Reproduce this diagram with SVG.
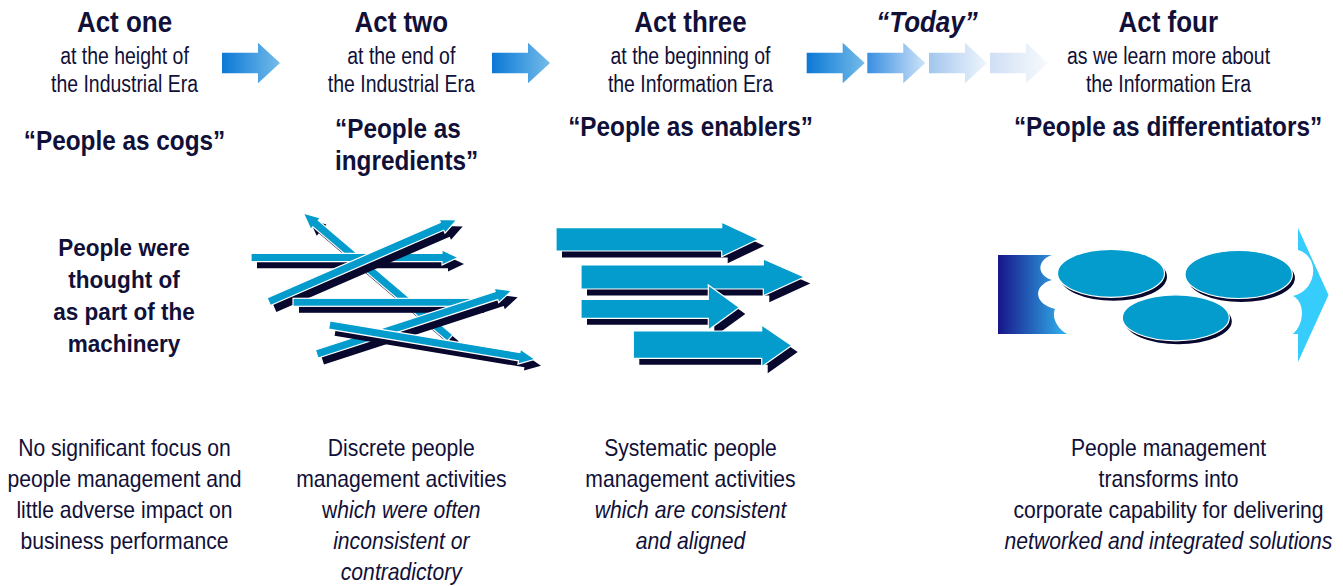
<svg xmlns="http://www.w3.org/2000/svg" width="1343" height="586" viewBox="0 0 1343 586">
  <style>
    text { font-family: "Liberation Sans", Arial, sans-serif; fill: #101038; text-anchor: middle; }
    .act { font-size: 30px; font-weight: bold; }
    .sub { font-size: 24px; }
    .quote { font-size: 27.5px; font-weight: bold; }
    .lead { font-size: 24.5px; font-weight: bold; }
    .desc { font-size: 23px; }
    .it { font-style: italic; }
    .blue { fill: #049ccc; stroke: #ffffff; stroke-width: 1.2; stroke-linejoin: miter; }
    .shade { fill: #08082e; }
  </style>
  <defs>
    <linearGradient id="flow1" x1="0" y1="0" x2="1" y2="0">
      <stop offset="0" stop-color="#0b78d6"/>
      <stop offset="1" stop-color="#74bce9"/>
    </linearGradient>
    <linearGradient id="flow2" x1="0" y1="0" x2="1" y2="0">
      <stop offset="0" stop-color="#3a8fe2"/>
      <stop offset="1" stop-color="#cde3f8"/>
    </linearGradient>
    <linearGradient id="flow3" x1="0" y1="0" x2="1" y2="0">
      <stop offset="0" stop-color="#a2c6ee"/>
      <stop offset="1" stop-color="#eff5fc"/>
    </linearGradient>
    <linearGradient id="flow4" x1="0" y1="0" x2="1" y2="0">
      <stop offset="0" stop-color="#cfdff5"/>
      <stop offset="1" stop-color="#f8fafd"/>
    </linearGradient>
    <linearGradient id="bigFlow" gradientUnits="userSpaceOnUse" x1="998" y1="0" x2="1078" y2="0">
      <stop offset="0" stop-color="#17168a"/>
      <stop offset="1" stop-color="#36cdfd"/>
    </linearGradient>
    <!-- block arrow used between the acts -->
    <path id="stepArrow" d="M0,-10.3 H36 V-20.3 L58,0 L36,20.3 V10.3 H0 Z"/>
  </defs>

  <!-- progression arrows between the acts -->
  <g id="connectors">
    <use href="#stepArrow" transform="translate(222,63)" fill="url(#flow1)"/>
    <use href="#stepArrow" transform="translate(492,63)" fill="url(#flow1)"/>
    <use href="#stepArrow" transform="translate(806.7,63)" fill="url(#flow1)"/>
    <use href="#stepArrow" transform="translate(867.3,63)" fill="url(#flow2)"/>
    <use href="#stepArrow" transform="translate(929,63)" fill="url(#flow3)"/>
    <use href="#stepArrow" transform="translate(990,63)" fill="url(#flow4)"/>
  </g>

  <!-- Act one -->
  <g id="act-one">
    <text class="act" transform="translate(124.5,32) scale(0.865,1)">Act one</text>
    <text class="sub" transform="translate(124.5,64) scale(0.81,1)">at the height of</text>
    <text class="sub" transform="translate(124.5,92) scale(0.81,1)">the Industrial Era</text>
    <text class="quote" transform="translate(124.5,150) scale(0.885,1)">“People as cogs”</text>
    <g transform="translate(124,0) scale(0.92,1)">
      <text class="lead" x="0" y="256">People were</text>
      <text class="lead" x="0" y="288">thought of</text>
      <text class="lead" x="0" y="320">as part of the</text>
      <text class="lead" x="0" y="352">machinery</text>
    </g>
    <g transform="translate(124.5,0) scale(0.92,1)">
      <text class="desc" x="0" y="456">No significant focus on</text>
      <text class="desc" x="0" y="487">people management and</text>
      <text class="desc" x="0" y="518">little adverse impact on</text>
      <text class="desc" x="0" y="549">business performance</text>
    </g>
  </g>

  <!-- Act two -->
  <g id="act-two">
    <text class="act" transform="translate(401.3,32) scale(0.865,1)">Act two</text>
    <text class="sub" transform="translate(401.3,64) scale(0.81,1)">at the end of</text>
    <text class="sub" transform="translate(401.3,92) scale(0.81,1)">the Industrial Era</text>
    <text class="quote" transform="translate(335,138) scale(0.885,1)" style="text-anchor:start">“People as</text>
    <text class="quote" transform="translate(335,170) scale(0.885,1)" style="text-anchor:start">ingredients”</text>

    <!-- scattered, conflicting activities -->
    <g id="scattered-arrows">
      <path class="shade" transform="translate(456,344.5) rotate(-139.6)" d="M0,-4.2 H176.5 V-7.5 L192.5,0 L176.5,7.5 V4.2 H0 Z"/>
      <path class="blue" transform="translate(450,338) rotate(-139.6)" d="M0,-4.2 H176.5 V-7.5 L192.5,0 L176.5,7.5 V4.2 H0 Z"/>

      <path class="shade" transform="translate(257,264)" d="M0,-4.2 H191 V-7.5 L207,0 L191,7.5 V4.2 H0 Z"/>
      <path class="blue" transform="translate(251,257.5)" d="M0,-4.2 H191 V-7.5 L207,0 L191,7.5 V4.2 H0 Z"/>

      <path class="shade" transform="translate(274.7,308.2) rotate(-23.5)" d="M0,-4.2 H189 V-7.5 L205,0 L189,7.5 V4.2 H0 Z"/>
      <path class="blue" transform="translate(268.7,301.7) rotate(-23.5)" d="M0,-4.2 H189 V-7.5 L205,0 L189,7.5 V4.2 H0 Z"/>

      <rect class="shade" x="299" y="304.8" width="185" height="8"/>
      <rect class="blue" x="293" y="298.3" width="185" height="8"/>

      <path class="shade" transform="translate(322.7,360.5) rotate(-18)" d="M0,-4.2 H189 V-7.5 L205,0 L189,7.5 V4.2 H0 Z"/>
      <path class="blue" transform="translate(316.7,354) rotate(-18)" d="M0,-4.2 H189 V-7.5 L205,0 L189,7.5 V4.2 H0 Z"/>

      <path class="shade" transform="translate(335.3,331.5) rotate(9.47)" d="M0,-4.2 H192.5 V-7.5 L208.5,0 L192.5,7.5 V4.2 H0 Z"/>
      <path class="blue" transform="translate(329.3,325) rotate(9.47)" d="M0,-4.2 H192.5 V-7.5 L208.5,0 L192.5,7.5 V4.2 H0 Z"/>
    </g>

    <g transform="translate(401.3,0) scale(0.92,1)">
      <text class="desc" x="0" y="456">Discrete people</text>
      <text class="desc" x="0" y="487">management activities</text>
      <text class="desc" x="0" y="518">w<tspan class="it">hich were often</tspan></text>
      <text class="desc it" x="0" y="549">inconsistent or</text>
      <text class="desc it" x="0" y="580">contradictory</text>
    </g>
  </g>

  <!-- Act three -->
  <g id="act-three">
    <text class="act" transform="translate(690.5,32) scale(0.865,1)">Act three</text>
    <text class="sub" transform="translate(690.5,64) scale(0.81,1)">at the beginning of</text>
    <text class="sub" transform="translate(690.5,92) scale(0.81,1)">the Information Era</text>
    <text class="quote" transform="translate(690.5,136) scale(0.885,1)">“People as enablers”</text>

    <!-- aligned activities -->
    <g id="aligned-arrows">
      <path class="shade" transform="translate(6,6.5)" d="M556,227.7 H721.7 V222.3 L758.3,239.3 L721.7,256.7 V251 H556 Z"/>
      <path class="blue" d="M556,227.7 H721.7 V222.3 L758.3,239.3 L721.7,256.7 V251 H556 Z"/>
      <path class="shade" transform="translate(6,6.5)" d="M581,265 H763.3 V259 L804.3,277 L763.3,295.7 V289 H581 Z"/>
      <path class="blue" d="M581,265 H763.3 V259 L804.3,277 L763.3,295.7 V289 H581 Z"/>
      <path class="shade" transform="translate(6,6.5)" d="M581,299.3 H708.3 V285 L739.3,307.5 L708.3,330 V318.3 H581 Z"/>
      <path class="blue" d="M581,299.3 H708.3 V285 L739.3,307.5 L708.3,330 V318.3 H581 Z"/>
      <path class="shade" transform="translate(6,6.5)" d="M633.3,331 H761.7 V325 L791.7,345.5 L761.7,366.7 V358.3 H633.3 Z"/>
      <path class="blue" d="M633.3,331 H761.7 V325 L791.7,345.5 L761.7,366.7 V358.3 H633.3 Z"/>
    </g>

    <g transform="translate(690.5,0) scale(0.92,1)">
      <text class="desc" x="0" y="456">Systematic people</text>
      <text class="desc" x="0" y="487">management activities</text>
      <text class="desc it" x="0" y="518">which are consistent</text>
      <text class="desc it" x="0" y="549">and aligned</text>
    </g>
  </g>

  <!-- Today -->
  <g id="today">
    <text class="act it" transform="translate(927,32) scale(0.865,1)">“Today”</text>
  </g>

  <!-- Act four -->
  <g id="act-four">
    <text class="act" transform="translate(1168.3,32) scale(0.865,1)">Act four</text>
    <text class="sub" transform="translate(1168.5,64) scale(0.81,1)">as we learn more about</text>
    <text class="sub" transform="translate(1168.5,92) scale(0.81,1)">the Information Era</text>
    <text class="quote" transform="translate(1168,136) scale(0.885,1)">“People as differentiators”</text>

    <!-- integrated capability: broad arrow with networked discs -->
    <g id="integrated-flow">
      <path fill="url(#bigFlow)" d="M998,255 H1298 V228 L1328.5,295 L1298,362 V334 H998 Z"/>
      <path fill="#ffffff" d="M1056,250 V254 C1038,257 1034,274 1052,280 C1033,285 1033,304 1055,309 C1051,318 1058,332 1074,337 H1288 C1304,330 1307,303 1293,296 C1318,290 1320,256 1298,250 Z"/>
      <ellipse class="shade" cx="1113.5" cy="276.8" rx="53.5" ry="24"/>
      <ellipse class="blue" cx="1111" cy="273.3" rx="53.5" ry="24" stroke-width="1.6"/>
      <ellipse class="shade" cx="1241.2" cy="278" rx="53.7" ry="24"/>
      <ellipse class="blue" cx="1238.7" cy="274.5" rx="53.7" ry="24" stroke-width="1.6"/>
      <ellipse class="shade" cx="1178.3" cy="321.3" rx="53.5" ry="23"/>
      <ellipse class="blue" cx="1175.8" cy="317.8" rx="53.5" ry="23" stroke-width="1.6"/>
    </g>

    <g transform="translate(1168.5,0) scale(0.92,1)">
      <text class="desc" x="0" y="456">People management</text>
      <text class="desc" x="0" y="487">transforms into</text>
      <text class="desc" x="0" y="518">corporate capability for delivering</text>
      <text class="desc it" x="0" y="549">networked and integrated solutions</text>
    </g>
  </g>
</svg>
